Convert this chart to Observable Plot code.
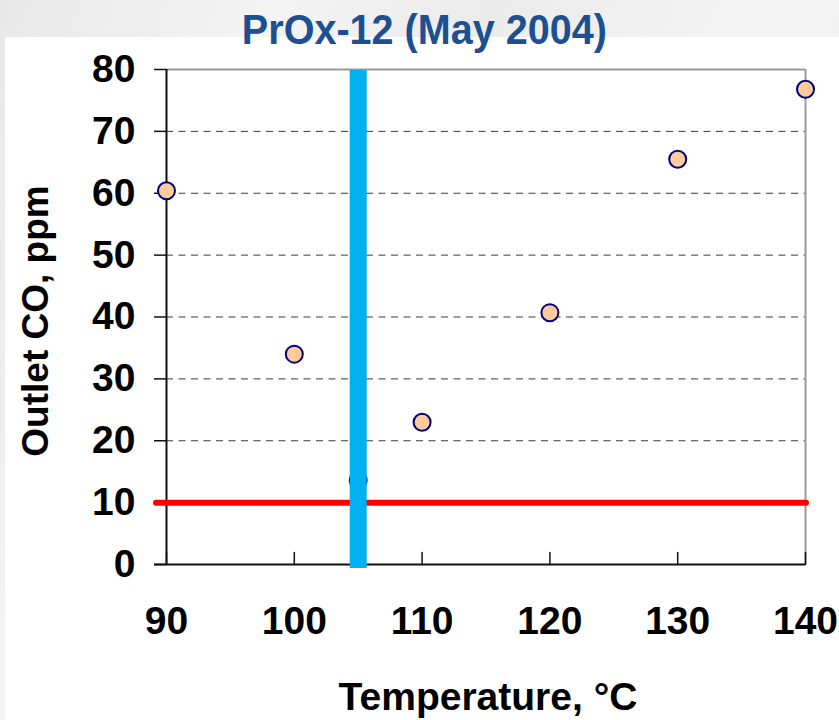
<!DOCTYPE html>
<html>
<head>
<meta charset="utf-8">
<script src="https://cdn.jsdelivr.net/npm/d3@7"></script>
<script src="https://cdn.jsdelivr.net/npm/@observablehq/plot@0.6"></script>
<style>
  html, body { margin: 0; padding: 0; }
  #page {
    position: relative; width: 839px; height: 720px; overflow: hidden;
    background: linear-gradient(110deg, #e8e8e8 0%, #f4f4f4 25%, #ebebeb 45%, #f5f5f5 70%, #ececec 100%);
    font-family: "Liberation Sans", Arial, sans-serif;
  }
  #whitebox { position: absolute; left: 5px; top: 37px; right: 0; bottom: 0; background: #fff; }
  #title {
    position: relative; height: 56px; line-height: 58px; text-align: center;
    font-size: 43px; font-weight: bold; color: #1d4f91; white-space: nowrap;
  }
  #title span { display: inline-block; transform: scaleX(0.92); margin-left: 10px; }
  #chart { position: relative; }
  #chart svg { overflow: visible; }
</style>
</head>
<body>
<div id="page">
  <div id="whitebox"></div>
  <div id="title"><span>PrOx-12 (May 2004)</span></div>
  <div id="chart"></div>
</div>
<script>
// Data
const temps = [90, 100, 105, 110, 120, 130, 140];
const outletCO = [60.4, 34.0, 13.6, 23.0, 40.7, 65.5, 76.8];
const xTicks = [90, 100, 110, 120, 130, 140];
const yTicks = [0, 10, 20, 30, 40, 50, 60, 70, 80];
const limitCO = [10];
const markerTemp = [105];
const xLabel = "Temperature, °C";
const yLabel = "Outlet CO, ppm";

const points = temps.map((t, i) => ({temp: t, co: outletCO[i]}));
const gridValues = yTicks.filter(v => v > 0 && v < 80);

const font = "'Liberation Sans', Arial, sans-serif";

const chart = Plot.plot({
  width: 839,
  height: 664,
  marginLeft: 166,
  marginRight: 34,
  marginTop: 13,
  marginBottom: 156,
  style: {fontFamily: font, background: "transparent", overflow: "visible"},
  x: {domain: [90, 140], axis: null},
  y: {domain: [0, 80], axis: null},
  marks: [
    // dashed gridlines
    Plot.ruleY(gridValues, {stroke: "#3a3a3a", strokeWidth: 1, strokeDasharray: "7,5.5"}),
    // top & right frame (gray)
    Plot.ruleY([80], {stroke: "#9a9a9a", strokeWidth: 2}),
    Plot.ruleX([140], {stroke: "#9a9a9a", strokeWidth: 2}),
    // left & bottom axes (black)
    Plot.ruleX([90], {stroke: "#111", strokeWidth: 2}),
    Plot.ruleY([0], {stroke: "#111", strokeWidth: 2, insetLeft: -12}),
    // y ticks + labels
    Plot.axisY(yTicks, {
      anchor: "left", tickSize: 12, tickPadding: 19, stroke: "#111", strokeWidth: 1.5,
      fontSize: 39, fontWeight: "bold", fill: "#000", label: null, tickFormat: d => d
    }),
    // x tick labels
    Plot.axisX(xTicks, {
      anchor: "bottom", tickSize: 0, tickPadding: 42,
      fontSize: 39, fontWeight: "bold", fill: "#000", label: null, tickFormat: d => d
    }),
    // x ticks pointing inward (upward)
    Plot.vector(xTicks, {
      x: d => d, y: 0, length: 12, rotate: 0, anchor: "start",
      stroke: "#111", strokeWidth: 1.5,
      shape: {draw(ctx, l) { ctx.moveTo(0, 0); ctx.lineTo(0, -l); }}
    }),
    // red limit line
    Plot.ruleY(limitCO, {stroke: "#ff0000", strokeWidth: 6, strokeLinecap: "round", insetLeft: -10, insetRight: -1}),
    // data points
    Plot.dot(points, {x: "temp", y: "co", r: 8.5, fill: "#ffcc99", stroke: "#000080", strokeWidth: 2}),
    // blue vertical marker bar
    Plot.ruleX(markerTemp, {stroke: "#00b0f0", strokeWidth: 17, insetBottom: -4, insetTop: 1}),
    // axis titles
    Plot.text([xLabel], {
      frameAnchor: "bottom", dy: 133, dx: 2, text: d => d, lineAnchor: "middle", textAnchor: "middle",
      fontSize: 39, fontWeight: "bold", fill: "#000"
    }),
    Plot.text([yLabel], {
      frameAnchor: "left", dx: -130, dy: 4, rotate: -90, text: d => d,
      textAnchor: "middle", lineAnchor: "middle",
      fontSize: 37, fontWeight: "bold", fill: "#000"
    })
  ]
});

document.getElementById("chart").appendChild(chart);
</script>
</body>
</html>
